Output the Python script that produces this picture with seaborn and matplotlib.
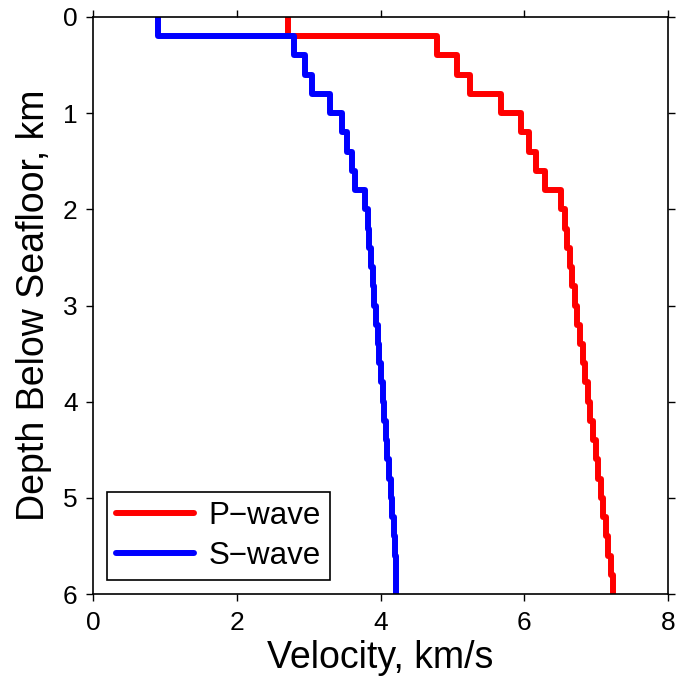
import numpy as np
import pandas as pd
import matplotlib
matplotlib.use("Agg")
import matplotlib.pyplot as plt
import seaborn as sns

# Layer tops (km below seafloor), 0.2 km thick layers down to 6 km
layer_top = [round(0.2 * i, 1) for i in range(30)]
layer_bottom = [round(0.2 * (i + 1), 1) for i in range(30)]

p_wave = [2.71, 4.79, 5.07, 5.24, 5.67, 5.95, 6.06, 6.17, 6.29, 6.51,
          6.56, 6.60, 6.63, 6.67, 6.70, 6.74, 6.77, 6.82, 6.85, 6.89,
          6.92, 6.96, 7.00, 7.03, 7.07, 7.10, 7.14, 7.17, 7.20, 7.24]
s_wave = [0.91, 2.79, 2.95, 3.05, 3.30, 3.46, 3.53, 3.60, 3.65, 3.78,
          3.82, 3.84, 3.87, 3.89, 3.91, 3.94, 3.96, 3.98, 4.01, 4.03,
          4.05, 4.07, 4.09, 4.12, 4.14, 4.16, 4.19, 4.20, 4.21, 4.22]

series_names = ["P\u2212wave", "S\u2212wave"]
series_colors = ["#ff0000", "#0000ff"]

rows = []
for name, vals in zip(series_names, [p_wave, s_wave]):
    for k, (t, b, v) in enumerate(zip(layer_top, layer_bottom, vals)):
        rows.append({"wave": name, "order": 2 * k, "depth": t, "velocity": v})
        rows.append({"wave": name, "order": 2 * k + 1, "depth": b, "velocity": v})
df = pd.DataFrame(rows)

sns.set_style("ticks")
plt.rcParams["font.family"] = ["Liberation Sans", "DejaVu Sans"]
plt.rcParams["text.color"] = "black"
plt.rcParams["axes.labelcolor"] = "black"
plt.rcParams["xtick.color"] = "black"
plt.rcParams["ytick.color"] = "black"

fig = plt.figure(figsize=(6.78, 6.86), dpi=100)
ax = fig.add_axes([93 / 678, 1 - 594 / 686, (668 - 93) / 678, (594 - 17) / 686])

sns.lineplot(data=df, x="velocity", y="depth", hue="wave", units="wave",
             estimator=None, sort=False, palette=dict(zip(series_names, series_colors)),
             linewidth=4.3, ax=ax, legend=True)

ax.set_xlim(0, 8)
ax.set_ylim(6, 0)
ax.set_xticks([0, 2, 4, 6, 8])
ax.set_yticks([0, 1, 2, 3, 4, 5, 6])
ax.tick_params(axis="both", direction="out", length=5, width=1.0, labelsize=19,
               top=True, right=True, labeltop=False, labelright=False,
               colors="black", labelcolor="black")
ax.tick_params(axis="x", pad=7)
ax.tick_params(axis="y", pad=6)
for sp in ax.spines.values():
    sp.set_visible(True)
    sp.set_linewidth(1.2)
    sp.set_color("black")

ax.set_xlabel("Velocity, km/s", fontsize=27, labelpad=4, color="black")
ax.set_ylabel("Depth Below Seafloor, km", fontsize=27, labelpad=8, color="black")

leg = ax.legend(loc="lower left", bbox_to_anchor=(0.024, 0.024), fontsize=22.5,
                frameon=True, fancybox=False, edgecolor="black", framealpha=1,
                handlelength=2.5, handletextpad=0.45, borderpad=0.3, labelspacing=0.3,
                borderaxespad=0, title=None)
leg.get_frame().set_linewidth(1.2)
for line in leg.get_lines():
    line.set_linewidth(4.3)
for t in leg.get_texts():
    t.set_color("black")

fig.savefig("out.png", dpi=100)
